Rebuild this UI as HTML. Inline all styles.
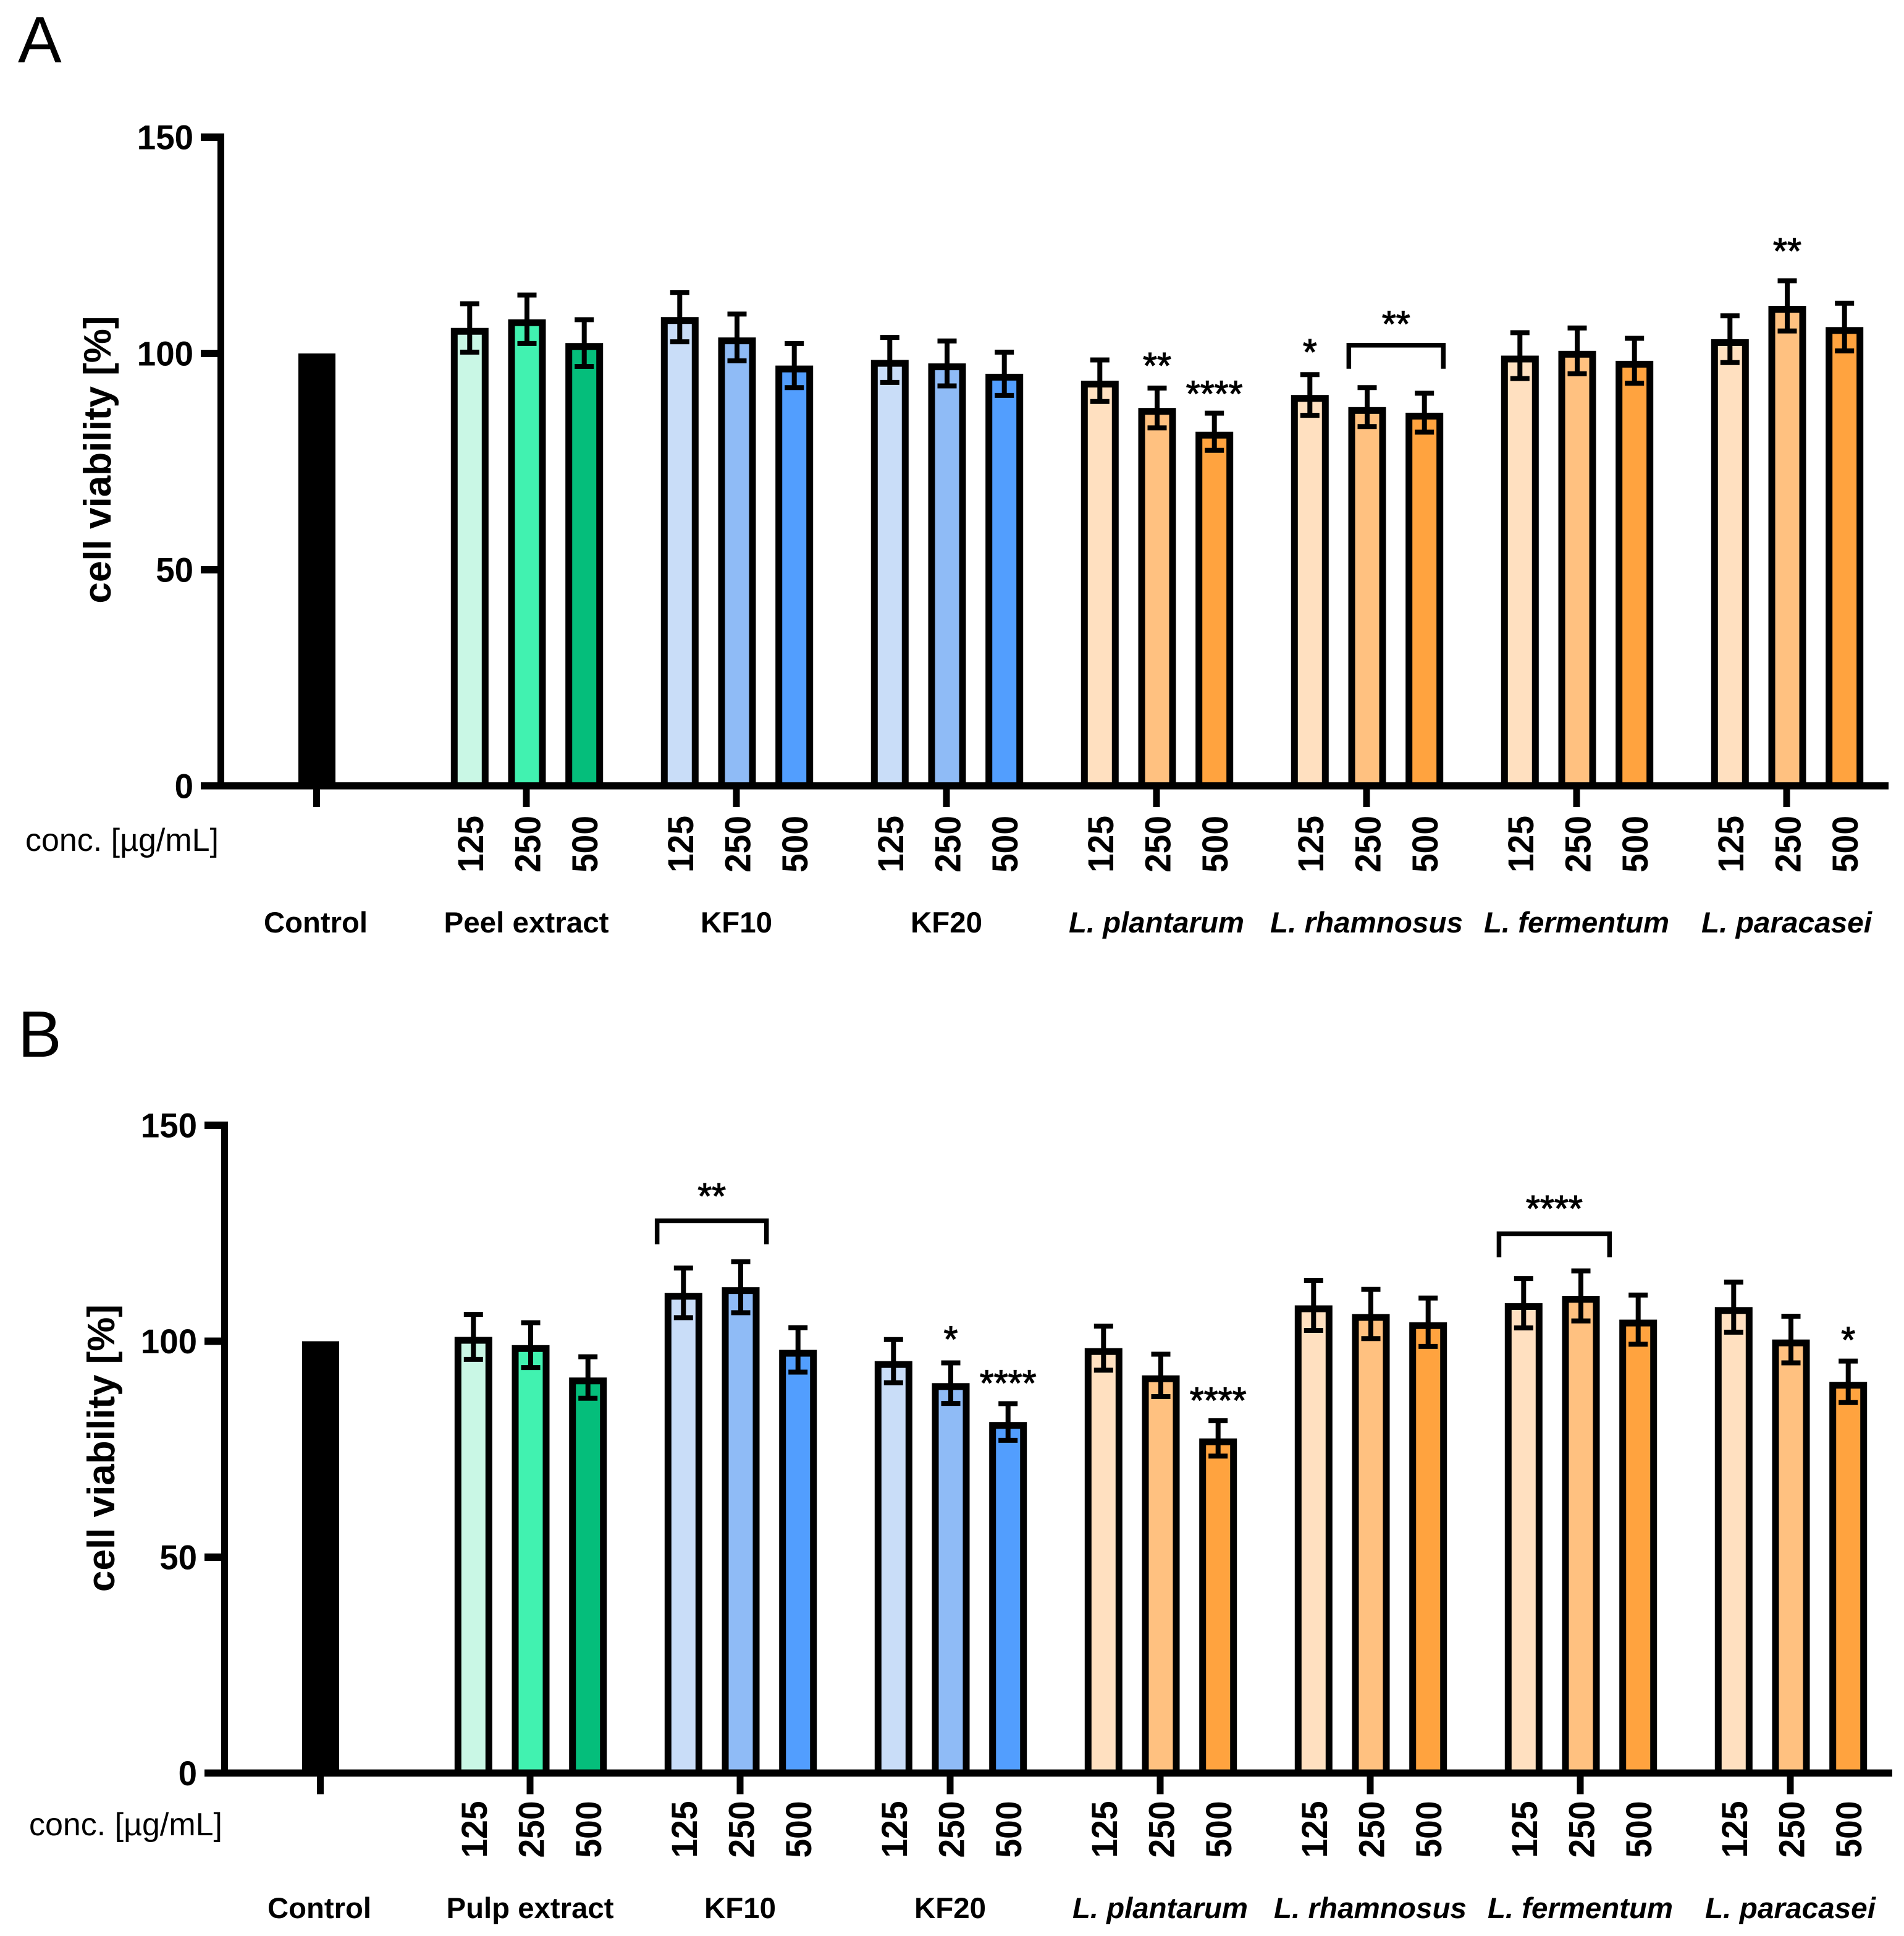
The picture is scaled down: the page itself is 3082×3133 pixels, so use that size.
<!DOCTYPE html>
<html lang="en">
<head>
<meta charset="utf-8">
<title>Cell viability bar charts</title>
<style>
html,body{margin:0;padding:0;background:#fff;width:3082px;height:3133px;overflow:hidden}
svg{display:block}
text{font-family:"Liberation Sans",Arial,sans-serif;fill:#000}
</style>
</head>
<body>
<svg id="figure" xmlns="http://www.w3.org/2000/svg" width="3082" height="3133" viewBox="0 0 3082 3133">
<rect x="0" y="0" width="3082" height="3133" fill="#ffffff"/>
</svg>
<script>
// ---- shared labels ----
const yTickLabels = [0, 50, 100, 150];
const concLabels = ['125', '250', '500'];
const groupsA = ['Peel extract', 'KF10', 'KF20', 'L. plantarum', 'L. rhamnosus', 'L. fermentum', 'L. paracasei'];
const groupsB = ['Pulp extract', 'KF10', 'KF20', 'L. plantarum', 'L. rhamnosus', 'L. fermentum', 'L. paracasei'];
const controlValue = 100;

// ---- panel A values (one row per group: 125, 250, 500 µg/mL) ----
const meansA = [
  [105.9, 107.9, 102.4],
  [108.4, 103.7, 97.2],
  [98.5, 97.7, 95.3],
  [93.7, 87.4, 81.9],
  [90.4, 87.6, 86.3],
  [99.5, 100.6, 98.3],
  [103.3, 111.0, 106.1]
];
const errorsA = [
  [5.6, 5.6, 5.4],
  [5.7, 5.4, 5.1],
  [5.2, 5.2, 5.0],
  [4.8, 4.6, 4.3],
  [4.7, 4.5, 4.5],
  [5.3, 5.3, 5.2],
  [5.4, 5.8, 5.5]
];
// ---- panel B values ----
const meansB = [
  [101.0, 99.1, 91.6],
  [111.2, 112.5, 98.0],
  [95.4, 90.3, 81.3],
  [98.4, 92.1, 77.5],
  [108.3, 106.3, 104.4],
  [108.8, 110.5, 105.0],
  [107.9, 100.4, 90.6]
];
const errorsB = [
  [5.2, 5.2, 4.8],
  [5.75, 5.9, 5.15],
  [5.0, 4.7, 4.25],
  [5.1, 4.9, 4.1],
  [5.8, 5.7, 5.6],
  [5.7, 5.8, 5.7],
  [5.8, 5.4, 4.8]
];
// ---- significance marks: group, bar position (-1..1), star string, level in axis units ----
const starsA = [
  [3, 0, '**', 94.3],
  [3, 1, '****', 87.8],
  [4, -1, '*', 97.4],
  [6, 0, '**', 120.8]
];
const starsB = [
  [2, 0, '*', 97.6],
  [2, 1, '****', 87.4],
  [3, 1, '****', 83.4],
  [6, 1, '*', 97.4]
];
// bracket: group, from position, to position, bracket level, star string, star level
const bracketsA = [
  [4, -0.32, 1.33, 101.9, '**', 103.9]
];
const bracketsB = [
  [1, -1.46, 0.45, 127.9, '**', 130.7],
  [5, -1.43, 0.50, 124.9, '****', 127.8]
];
const fills = [
  ['#C9F7E5', '#41F2B0', '#05BE7B'],
  ['#C9DDF8', '#8FBBF6', '#529EFE'],
  ['#C9DDF8', '#8FBBF6', '#529EFE'],
  ['#FFE0C0', '#FFC180', '#FFA33F'],
  ['#FFE0C0', '#FFC180', '#FFA33F'],
  ['#FFE0C0', '#FFC180', '#FFA33F'],
  ['#FFE0C0', '#FFC180', '#FFA33F']
];
const groupLabelWidthsA = [267, 116, 116, 284, 312, 300, 276];
const groupLabelWidthsB = [271, 116, 116, 284, 312, 300, 276];

const NS = 'http://www.w3.org/2000/svg';
const svg = document.getElementById('figure');

function mk(parent, tag, attrs, txt) {
  const el = document.createElementNS(NS, tag);
  for (const k in attrs) el.setAttribute(k, attrs[k]);
  if (txt !== undefined) el.textContent = txt;
  parent.appendChild(el);
  return el;
}

function drawPanel(cfg) {
  const dx = cfg.dx, y0 = cfg.y0, unit = cfg.unit;
  const yOf = v => y0 - v * unit;
  const groupX = g => 852 + dx + 340 * g;
  const barX = (g, p) => groupX(g) + 1 + 92.7 * p;
  const axisL = 363 + dx;
  const axisR = 3057 + dx;

  const root = mk(svg, 'g', {});
  
  

  const letter = mk(root, 'text', {x: cfg.letterX, y: cfg.letterY, 'font-size': 106}, cfg.id);
  
  

  // control bar
  const ctrl = mk(root, 'rect', {x: 483 + dx, y: yOf(controlValue), width: 60, height: y0 - yOf(controlValue), fill: '#000'});
  
  

  // bars + error bars
  cfg.means.forEach((row, g) => {
    row.forEach((m, i) => {
      const cx = barX(g, i - 1);
      const top = yOf(m);
      const bar = mk(root, 'rect', {x: cx - 25, y: top + 5.5, width: 50, height: y0 - top - 5.5, fill: fills[g][i], stroke: '#000', 'stroke-width': 11});
      
      

      const e = cfg.errors[g][i];
      const eHi = yOf(m + e), eLo = yOf(m - e);
      const errG = mk(root, 'g', {stroke: '#000', 'stroke-width': 8, fill: 'none'});
      
      
      mk(errG, 'line', {x1: cx, x2: cx, y1: eHi, y2: eLo});
      mk(errG, 'line', {x1: cx - 15.5, x2: cx + 15.5, y1: eHi, y2: eHi});
      mk(errG, 'line', {x1: cx - 15.5, x2: cx + 15.5, y1: eLo, y2: eLo});
    });
  });

  // y axis
  const yAxis = mk(root, 'g', {fill: '#000'});
  
  
  mk(yAxis, 'rect', {x: axisL - 11, y: yOf(150) - 6, width: 11, height: y0 - yOf(150) + 6});
  yTickLabels.forEach(v => {
    if (v > 0) mk(yAxis, 'rect', {x: axisL - 38, y: yOf(v) - 6, width: 38, height: 12});
    const t = mk(yAxis, 'text', {x: axisL - 50, y: yOf(v) + 19.5, 'font-size': 56, 'font-weight': 'bold', 'text-anchor': 'end', textLength: String(v).length * 30.4, lengthAdjust: 'spacingAndGlyphs'}, String(v));
    
    
  });

  const yTitle = mk(root, 'text', {transform: 'translate(' + (179 + dx) + ',' + (y0 - cfg.titleUp) + ') rotate(-90)', 'font-size': 62, 'font-weight': 'bold', 'text-anchor': 'middle'}, 'cell viability [%]');
  
  

  // x axis
  const xAxis = mk(root, 'g', {fill: '#000'});
  
  
  mk(xAxis, 'rect', {x: axisL - 38, y: y0 - 6, width: axisR - axisL + 38, height: 11.5});
  mk(xAxis, 'rect', {x: 507 + dx, y: y0, width: 11, height: 34});
  cfg.groups.forEach((name, g) => {
    mk(xAxis, 'rect', {x: groupX(g) - 5.5, y: y0, width: 11, height: 34});
  });

  // conc label + control label
  const conc = mk(root, 'text', {x: 41 + dx, y: y0 + cfg.concDy, 'font-size': 52, textLength: 313, lengthAdjust: 'spacingAndGlyphs'}, 'conc. [µg/mL]');
  
  
  const ctrlLabel = mk(root, 'text', {x: 511 + dx, y: y0 + cfg.groupDy, 'font-size': 47, 'font-weight': 'bold', 'text-anchor': 'middle', textLength: 168, lengthAdjust: 'spacingAndGlyphs'}, 'Control');
  
  

  // group and concentration labels
  cfg.groups.forEach((name, g) => {
    const italic = name.indexOf('L. ') === 0;
    const lbl = mk(root, 'text', {x: groupX(g), y: y0 + cfg.groupDy, 'font-size': 47, 'font-weight': 'bold', 'font-style': italic ? 'italic' : 'normal', 'text-anchor': 'middle', textLength: cfg.groupWidths[g], lengthAdjust: 'spacingAndGlyphs'}, name);
    
    
    concLabels.forEach((c, i) => {
      const bx = barX(g, i - 1) + 21.5;
      const t = mk(root, 'text', {transform: 'translate(' + bx + ',' + (y0 + cfg.concTickDy) + ') rotate(-90)', 'font-size': 58, 'font-weight': 'bold', 'text-anchor': 'middle', textLength: 92, lengthAdjust: 'spacingAndGlyphs'}, c);
      
      
    });
  });

  // stars
  cfg.stars.forEach(s => {
    const t = mk(root, 'text', {x: barX(s[0], s[1]), y: yOf(s[3]), 'font-size': 59, 'text-anchor': 'middle', stroke: '#000', 'stroke-width': 1.2}, s[2]);
    
    
  });

  // brackets
  cfg.brackets.forEach(b => {
    const x1 = barX(b[0], b[1]), x2 = barX(b[0], b[2]), yTop = yOf(b[3]);
    const br = mk(root, 'path', {d: 'M' + x1 + ' ' + (yTop + 38) + 'V' + yTop + 'H' + x2 + 'V' + (yTop + 38), fill: 'none', stroke: '#000', 'stroke-width': 7.5});
    
    
    const t = mk(root, 'text', {x: (x1 + x2) / 2, y: yOf(b[5]), 'font-size': 59, 'text-anchor': 'middle', stroke: '#000', 'stroke-width': 1.2}, b[4]);
    
    
  });
}

drawPanel({id: 'A', dx: 0, y0: 1272, unit: 7, letterX: 29, letterY: 101, titleUp: 528, concDy: 105, groupDy: 237, concTickDy: 94, groups: groupsA, groupWidths: groupLabelWidthsA, means: meansA, errors: errorsA, stars: starsA, brackets: bracketsA});
drawPanel({id: 'B', dx: 6, y0: 2869.5, unit: 6.99, letterX: 29, letterY: 1710, titleUp: 526, concDy: 100.5, groupDy: 234.5, concTickDy: 91, groups: groupsB, groupWidths: groupLabelWidthsB, means: meansB, errors: errorsB, stars: starsB, brackets: bracketsB});
</script>
</body>
</html>
